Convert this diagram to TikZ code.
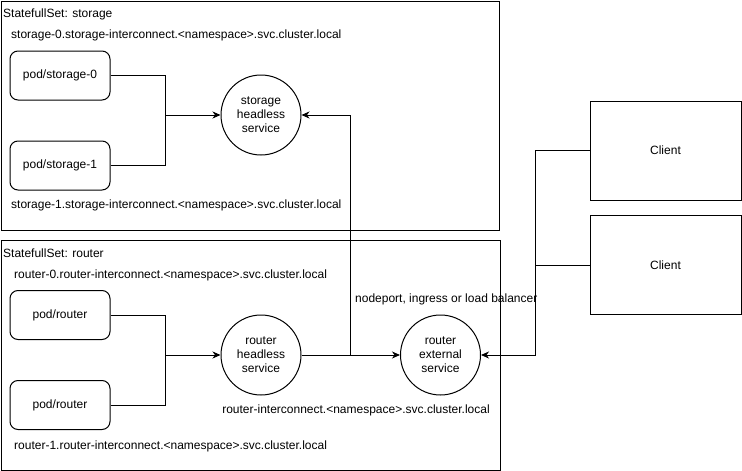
\documentclass[tikz,border=0pt]{standalone}
\usepackage{fontspec}
\setmainfont{Liberation Sans}
\usetikzlibrary{arrows.meta,calc}
\begin{document}
\begin{tikzpicture}[x=1pt,y=-1pt,
  every node/.style={font=\fontsize{12}{14}\selectfont},
  frame/.style={draw,line width=1pt},
  pod/.style={draw,line width=1pt,rounded corners=8pt,minimum width=100pt,minimum height=49pt,inner sep=0pt},
  svc/.style={draw,line width=1pt,circle,minimum size=80pt,inner sep=0pt,align=center,font=\fontsize{12}{14}\selectfont},
  client/.style={draw,line width=1pt,minimum width=151pt,minimum height=99pt,inner sep=0pt},
  lbl/.style={anchor=west,inner sep=0pt},
  conn/.style={line width=1pt},
  arr/.style={line width=1pt,-{Stealth[length=8pt,width=7pt,inset=2.5pt]}}]
\useasboundingbox (0,0) rectangle (742,471);
% frames
\node[frame,minimum width=498pt,minimum height=229pt,inner sep=0pt] (fs) at (250,115.5) {};
\node[frame,minimum width=499pt,minimum height=230pt,inner sep=0pt] (fr) at (250.5,355) {};
% storage
\node[lbl] (ts) at (3,14) {StatefullSet: storage};
\node[lbl] (ts0) at (11,35) {storage-0.storage-interconnect.<namespace>.svc.cluster.local};
\node[lbl] (ts1) at (11,205) {storage-1.storage-interconnect.<namespace>.svc.cluster.local};
\node[pod] (s0) at (60,75.5) {pod/storage-0};
\node[pod] (s1) at (60,165.5) {pod/storage-1};
\node[svc] (sh) at (261,115) {storage\\headless\\service};
\coordinate (j1) at (165,115);
\draw[arr] (s0.east) -| (j1) -- (sh.west);
\draw[conn] (s1.east) -| (j1);
% router
\node[lbl] (tr) at (3,253) {StatefullSet: router};
\node[lbl] (tr0) at (14,275) {router-0.router-interconnect.<namespace>.svc.cluster.local};
\node[lbl] (tr1) at (14,446) {router-1.router-interconnect.<namespace>.svc.cluster.local};
\node[anchor=center,inner sep=0pt] (tri) at (356,410) {router-interconnect.<namespace>.svc.cluster.local};
\node[lbl] (tnp) at (355,299) {nodeport, ingress or load balancer};
\node[pod] (r0) at (60,315) {pod/router};
\node[pod] (r1) at (60,405) {pod/router};
\node[svc] (rh) at (261,355) {router\\headless\\service};
\node[svc] (re) at (440.5,355) {router\\external\\service};
\coordinate (j2) at (165,355);
\draw[arr] (r0.east) -| (j2) -- (rh.west);
\draw[conn] (r1.east) -| (j2);
\draw[arr] (rh.east) -- (re.west);
\coordinate (b) at (350.5,355);
\draw[arr] (b) |- (sh.east);
% clients
\node[client] (c1) at (665.5,150.5) {Client};
\node[client] (c2) at (665.5,265) {Client};
\coordinate (j3) at (535,355);
\draw[arr] (c1.west) -| (j3) -- (re.east);
\draw[conn] (c2.west) -- (c2.west -| j3);
\end{tikzpicture}
\end{document}
